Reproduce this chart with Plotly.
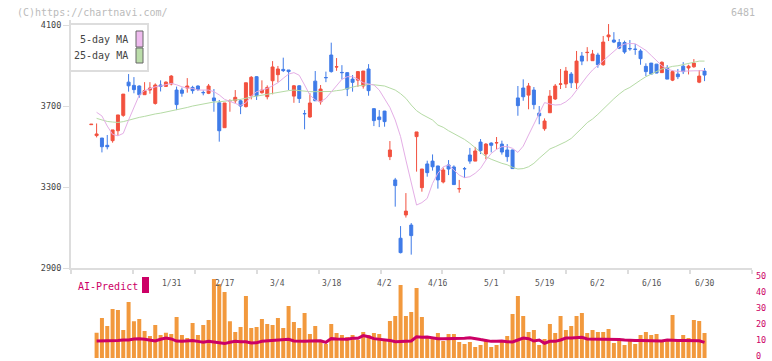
import plotly.graph_objects as go
import numpy as np

# ---------------- data ----------------
opens = [3608,3554,3542,3506,3529,3578,3654,3818,3802,3799,3756,3779,3713,3804,3797,3809,3779,3779,3789,3792,
         3799,3767,3763,3740,3716,3593,3725,3726,3726,3697,3751,3845,3766,3746,3825,3855,3881,3878,3749,3800,
         3663,3646,3823,3721,3841,3952,3893,3866,3865,3833,3828,3799,3883,3687,3646,3675,3450,3335,3047,3162,
         3112,3549,3297,3414,3428,3404,3325,3409,3399,3291,3391,3458,3428,3522,3463,3517,3518,3512,3483,3483,
         3740,3789,3754,3779,3665,3588,3667,3735,3808,3809,3858,3815,3947,3964,3924,3952,3904,4042,4026,4014,
         4014,3984,3981,3972,3896,3912,3907,3865,3888,3828,3858,3897,3888,3894,3818,3873]
highs = [3610,3614,3542,3557,3582,3656,3759,3858,3843,3802,3818,3818,3812,3827,3822,3853,3796,3791,3838,3800,
         3802,3777,3809,3784,3730,3715,3733,3779,3733,3815,3848,3848,3827,3802,3922,3898,3939,3878,3804,3803,
         3680,3763,3873,3804,3870,4013,3937,3902,3866,3853,3873,3873,3907,3688,3680,3676,3527,3345,3107,3270,
         3122,3572,3389,3430,3461,3405,3396,3433,3407,3335,3399,3493,3498,3537,3517,3521,3547,3529,3512,3484,
         3799,3832,3814,3794,3700,3639,3779,3809,3883,3893,3868,3972,3967,3991,3977,3963,4046,4105,4065,4031,
         4023,4026,4006,3981,3911,3913,3908,3921,3902,3876,3883,3917,3904,3932,3878,3888]
lows = [3608,3545,3471,3486,3519,3554,3647,3771,3763,3741,3756,3761,3707,3772,3795,3802,3680,3746,3766,3761,
        3774,3753,3759,3672,3524,3593,3672,3713,3660,3693,3733,3730,3761,3733,3758,3817,3868,3779,3716,3715,
        3585,3642,3726,3707,3818,3865,3874,3832,3749,3771,3795,3786,3751,3601,3596,3598,3433,3203,2972,3149,
        2966,3376,3277,3351,3381,3292,3318,3359,3311,3272,3345,3415,3428,3463,3437,3471,3486,3460,3425,3390,
        3652,3726,3684,3684,3610,3578,3667,3730,3784,3789,3789,3784,3902,3921,3924,3889,3899,4021,4011,3981,
        3958,3973,3953,3904,3848,3857,3862,3865,3833,3823,3833,3858,3856,3889,3813,3823]
closes = [3610,3562,3499,3499,3582,3656,3759,3800,3781,3756,3776,3789,3804,3797,3818,3848,3707,3763,3799,3776,
          3782,3766,3799,3726,3578,3715,3726,3743,3700,3815,3842,3751,3779,3792,3893,3883,3875,3870,3800,3737,
          3662,3715,3726,3784,3840,3870,3894,3865,3784,3817,3870,3873,3776,3628,3633,3623,3483,3307,2976,3181,
          3060,3572,3389,3371,3400,3335,3384,3389,3312,3292,3390,3428,3478,3480,3512,3506,3519,3473,3450,3391,
          3702,3746,3799,3707,3652,3626,3749,3799,3809,3873,3815,3922,3922,3965,3957,3904,4016,4051,4016,3986,
          3967,3983,3980,3934,3870,3858,3863,3916,3833,3870,3845,3870,3897,3912,3848,3853]

ma5 = [None,3669,3651,3601,3560,3553,3565,3631,3693,3754,3776,3787,3795,3799,3804,3812,3805,3795,3789,3787,
       3779,3779,3779,3771,3755,3733,3721,3713,3703,3716,3749,3771,3779,3787,3800,3815,3837,3858,3865,3852,
       3804,3754,3730,3721,3738,3771,3804,3832,3845,3845,3832,3815,3809,3804,3779,3738,3693,3631,3549,3433,
       3318,3211,3223,3244,3318,3368,3400,3409,3384,3359,3346,3351,3368,3392,3433,3466,3486,3499,3500,3491,
       3471,3502,3557,3611,3664,3717,3710,3705,3707,3721,3743,3779,3815,3848,3878,3901,3925,3949,3972,3993,
       4006,4009,4008,3993,3975,3950,3924,3899,3883,3875,3871,3873,3874,3874,3874,3876]
ma25 = [None,3639,3631,3624,3621,3619,3623,3631,3637,3644,3649,3656,3661,3665,3670,3677,3680,3687,3693,3700,
        3705,3712,3716,3720,3721,3723,3726,3730,3733,3740,3744,3749,3754,3759,3764,3769,3774,3776,3779,3776,
        3774,3771,3771,3771,3771,3772,3776,3779,3787,3795,3800,3802,3807,3805,3802,3799,3789,3779,3761,3738,
        3705,3677,3659,3644,3631,3606,3595,3578,3565,3552,3535,3516,3494,3471,3450,3437,3425,3417,3410,3397,
        3389,3391,3400,3417,3442,3466,3488,3499,3511,3524,3540,3568,3591,3618,3636,3659,3685,3713,3736,3759,
        3779,3792,3812,3828,3845,3858,3873,3883,3889,3896,3899,3904,3911,3917,3922,3922]

volume = [None,15.8,25,20,30.6,30,17.5,35,23,24.4,16.9,13.8,20.6,14.4,15.8,15,25.6,14.4,12.5,21.9,
          14.4,20.6,23.8,49.4,46.3,41.3,23,16.3,19.4,38.8,18.8,19.4,24.4,21.3,20.6,25,18.8,32.5,22.5,18.8,
          28.1,15,20,11.3,8.8,21.3,15.6,14.4,13.1,14.4,11.3,16.3,14.4,15.6,15,11.3,23.1,26.3,45.6,26.3,
          28.8,43.8,25.6,13.1,11.9,15.6,10.6,15,15,10,8.8,10,6.9,8.1,10.6,6.9,8.1,10.6,13.8,27.5,
          38.8,26.3,16.3,17.5,8.1,11.9,21.3,15.6,26.3,17.5,20,26.3,28.1,15.6,17.5,16.3,16.3,18.1,9.4,10.6,
          8.1,10.6,8.8,14.4,16.3,14.4,15,11.3,10.6,26.9,11.9,14.4,12.5,23.8,23.1,15.6]
ai_predict = [None,10.6,10.6,10.6,10.6,11,11.25,11.25,11.9,12.1,11.7,11.25,10.6,11.7,12.5,11.9,10.6,10.4,10.8,11,
              10.4,9.8,10.4,10,9.6,9,9.8,10.4,10.2,10.2,9.4,9.6,10.4,10.6,10.8,11,11.25,11.7,10.6,10.4,
              10.4,10.6,10.8,10.8,9.8,12.1,11.9,11.7,11.7,12.3,12.3,14,13.3,12.1,11.7,11.7,11,10.2,10.2,10.2,
              10.6,13.3,12.9,13.1,12.5,12.1,12.1,12.1,12.1,11.9,12.3,12.7,11.9,11.5,11,10.4,10.4,10.6,10.2,10,
              11.25,12.5,12.1,10.6,11.25,9.2,10.4,10.4,11.25,12.5,12.5,12.7,12.9,11.9,11.9,11.7,11.7,11.9,11.9,11.5,
              11.25,11,11,11,11,11,11,10.6,11.25,11,11,11,11,11,10.8,9.8]

date_labels = ["1/31", "2/17", "3/4", "3/18", "4/2", "4/16", "5/1", "5/19", "6/2", "6/16", "6/30"]
date_label_idx = [15, 25, 35, 45, 55, 65, 75, 85, 95, 105, 115]
price_ticks = [2900, 3300, 3700, 4100]
vol_ticks = [0, 10, 20, 30, 40, 50]

idx = list(range(len(closes)))

# ---------------- styling ----------------
RED = "#f2513f"
BLUE = "#3f7be8"
PINK = "#e4aee6"
GREEN = "#b5dba5"
ORANGE = "#f2993d"
CRIMSON = "#cc0066"
AXIS = "#dddddd"
MONO = "DejaVu Sans Mono"

W, H = 772, 361
ML, MR, MT, MB = 71, 20, 20, 3
PW, PH = W - ML - MR, H - MT - MB


def px(x):
    return (x - ML) / PW


def py(y):
    return (H - MB - y) / PH


XR = [-3.8, 123.9]
grid_ticks = list(np.linspace(XR[0], XR[1], 12))

fig = go.Figure()

fig.add_trace(go.Candlestick(
    x=idx, open=opens, high=highs, low=lows, close=closes,
    increasing=dict(line=dict(color=RED, width=1), fillcolor=RED),
    decreasing=dict(line=dict(color=BLUE, width=1), fillcolor=BLUE),
    whiskerwidth=0, xaxis="x", yaxis="y", showlegend=False, hoverinfo="skip"))

fig.add_trace(go.Scatter(x=idx, y=ma25, mode="lines", line=dict(color=GREEN, width=1),
                         xaxis="x", yaxis="y", showlegend=False, hoverinfo="skip"))
fig.add_trace(go.Scatter(x=idx, y=ma5, mode="lines", line=dict(color=PINK, width=1),
                         xaxis="x", yaxis="y", showlegend=False, hoverinfo="skip"))

fig.add_trace(go.Bar(x=idx, y=volume, marker=dict(color=ORANGE, line=dict(width=0)),
                     xaxis="x2", yaxis="y2", showlegend=False, hoverinfo="skip"))
fig.add_trace(go.Scatter(x=idx, y=ai_predict, mode="lines", line=dict(color=CRIMSON, width=3),
                         xaxis="x2", yaxis="y2", showlegend=False, hoverinfo="skip"))

price_bottom = py(268)
VOL_MAX = 51
vol_top = py(358 - 80 * VOL_MAX / 50)

fig.update_layout(
    width=W, height=H,
    margin=dict(l=ML, r=MR, t=MT, b=MB, pad=0, autoexpand=False),
    paper_bgcolor="white", plot_bgcolor="white",
    showlegend=False,
    bargap=0.25, boxgap=0.2,
    xaxis=dict(domain=[0, 1], range=XR, anchor="y", showline=True, linecolor=AXIS, linewidth=2,
               ticks="outside", tickvals=grid_ticks, ticklen=4, tickcolor=AXIS, tickwidth=2,
               showticklabels=False, showgrid=False, zeroline=False, automargin=False,
               rangeslider=dict(visible=False)),
    yaxis=dict(domain=[price_bottom, 1], range=[2900, 4125], anchor="x", showline=True,
               linecolor=AXIS, linewidth=2, ticks="outside", ticklen=6, tickcolor=AXIS, tickwidth=1,
               tickvals=price_ticks, ticktext=[str(v) for v in price_ticks],
               tickfont=dict(family=MONO, size=8.5, color="#444444"),
               showgrid=False, zeroline=False, automargin=False),
    xaxis2=dict(matches="x", anchor="y2", showline=False, ticks="", showticklabels=False,
                showgrid=False, zeroline=False, automargin=False),
    yaxis2=dict(domain=[0, vol_top], range=[0, VOL_MAX], anchor="x2", side="right",
                tickvals=vol_ticks, ticktext=[str(v) for v in vol_ticks],
                tickfont=dict(family=MONO, size=8.5, color=CRIMSON),
                ticklabeloverflow="allow", ticklabelshift=-2, ticklabelstandoff=3,
                showline=False, showgrid=False, zeroline=False, ticks="", ticklen=0,
                automargin=False),
)

shapes = [
    dict(type="rect", xref="paper", yref="paper", x0=px(70), x1=px(148), y0=py(71), y1=py(24),
         line=dict(color=AXIS, width=2), fillcolor="white", layer="above"),
    dict(type="rect", xref="paper", yref="paper", x0=px(136), x1=px(143), y0=py(47), y1=py(31),
         line=dict(color="#666666", width=1), fillcolor="#eebbee", layer="above"),
    dict(type="rect", xref="paper", yref="paper", x0=px(136), x1=px(143), y0=py(63), y1=py(48),
         line=dict(color="#666666", width=1), fillcolor="#bbddaa", layer="above"),
    dict(type="rect", xref="paper", yref="paper", x0=px(142), x1=px(149), y0=py(293), y1=py(277),
         line=dict(width=0), fillcolor=CRIMSON, layer="above"),
]
fig.update_layout(shapes=shapes)

ann = [
    dict(text="5-day MA", x=px(130), y=py(40), xanchor="right", yanchor="middle",
         font=dict(family=MONO, size=10, color="#444444")),
    dict(text="25-day MA", x=px(130), y=py(56), xanchor="right", yanchor="middle",
         font=dict(family=MONO, size=10, color="#444444")),
    dict(text="AI-Predict", x=px(76), y=py(286), xanchor="left", yanchor="middle",
         font=dict(family=MONO, size=10, color=CRIMSON)),
    dict(text="(C)https://chartnavi.com/", x=px(15), y=py(12), xanchor="left", yanchor="middle",
         font=dict(family=MONO, size=10, color="#bbbbbb")),
    dict(text="6481", x=px(757), y=py(12), xanchor="right", yanchor="middle",
         font=dict(family=MONO, size=10, color="#bbbbbb")),
]
for a in ann:
    a.update(xref="paper", yref="paper", showarrow=False)
for lab, pos in zip(date_labels, date_label_idx):
    ann.append(dict(text=lab, x=pos, xref="x2", y=py(283), yref="paper", showarrow=False,
                    xanchor="center", yanchor="middle",
                    font=dict(family=MONO, size=8, color="#555555")))
fig.update_layout(annotations=ann)

fig.write_html("out.html",
               config={"displayModeBar": False, "staticPlot": True},
               post_script="document.body.style.margin='0';document.body.style.overflow='hidden';")
